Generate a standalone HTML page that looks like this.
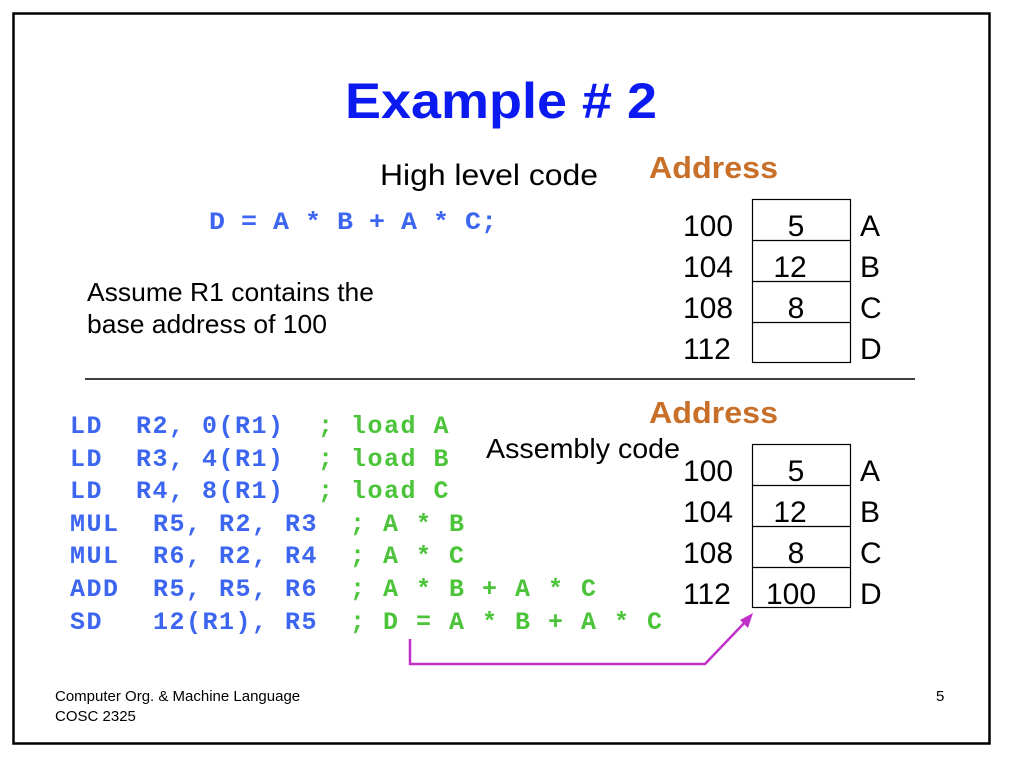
<!DOCTYPE html>
<html><head><meta charset="utf-8"><style>
html,body{margin:0;padding:0;background:#fff;}
svg{display:block;}
.s{font-family:"Liberation Sans",sans-serif;}
.m{font-family:"Liberation Mono",monospace;font-weight:bold;font-size:25px;letter-spacing:1.5px;}
.b{fill:#3d66f0;}
.g{fill:#4cc43a;}
</style></head><body>
<svg width="1024" height="761" viewBox="0 0 1024 761" xmlns="http://www.w3.org/2000/svg">
<rect x="0" y="0" width="1024" height="761" fill="#fff"/>
<rect x="13.5" y="13.5" width="976" height="730" fill="none" stroke="#000" stroke-width="2.5"/>
<text class="s" x="345" y="118" font-size="50" font-weight="bold" fill="#0a1af0" textLength="312" lengthAdjust="spacingAndGlyphs">Example # 2</text>
<text class="s" x="380" y="185" font-size="30" fill="#000" textLength="218" lengthAdjust="spacingAndGlyphs">High level code</text>
<text class="s" x="649" y="178" font-size="31" font-weight="bold" fill="#c8702a" textLength="129" lengthAdjust="spacingAndGlyphs">Address</text>
<text class="m b" x="209" y="229" style="letter-spacing:0" textLength="288" lengthAdjust="spacingAndGlyphs">D = A * B + A * C;</text>
<text class="s" x="87" y="301" font-size="26" fill="#000" textLength="287" lengthAdjust="spacingAndGlyphs">Assume R1 contains the</text>
<text class="s" x="87" y="333" font-size="26" fill="#000" textLength="240" lengthAdjust="spacingAndGlyphs">base address of 100</text>
<g class="s" font-size="30" fill="#000">
<rect x="752.5" y="199.5" width="98" height="163" fill="none" stroke="#000" stroke-width="1.2"/>
<line x1="752" y1="240.5" x2="851" y2="240.5" stroke="#000" stroke-width="1.2"/>
<line x1="752" y1="281.5" x2="851" y2="281.5" stroke="#000" stroke-width="1.2"/>
<line x1="752" y1="322.5" x2="851" y2="322.5" stroke="#000" stroke-width="1.2"/>
<text x="683" y="236">100</text><text x="683" y="277">104</text><text x="683" y="318">108</text><text x="683" y="359">112</text>
<text x="796" y="236" text-anchor="middle">5</text><text x="790" y="277" text-anchor="middle">12</text><text x="796" y="318" text-anchor="middle">8</text>
<text x="860" y="236">A</text><text x="860" y="277">B</text><text x="860" y="318">C</text><text x="860" y="359">D</text>
</g>
<line x1="85" y1="379" x2="915" y2="379" stroke="#000" stroke-width="1.5"/>
<text class="s" x="649" y="423" font-size="31" font-weight="bold" fill="#c8702a" textLength="129" lengthAdjust="spacingAndGlyphs">Address</text>
<text class="s" x="486" y="458" font-size="28" fill="#000" textLength="194" lengthAdjust="spacingAndGlyphs">Assembly code</text>
<g class="s" font-size="30" fill="#000">
<rect x="752.5" y="444.5" width="98" height="163" fill="none" stroke="#000" stroke-width="1.2"/>
<line x1="752" y1="485.5" x2="851" y2="485.5" stroke="#000" stroke-width="1.2"/>
<line x1="752" y1="526.5" x2="851" y2="526.5" stroke="#000" stroke-width="1.2"/>
<line x1="752" y1="567.5" x2="851" y2="567.5" stroke="#000" stroke-width="1.2"/>
<text x="683" y="481">100</text><text x="683" y="522">104</text><text x="683" y="563">108</text><text x="683" y="604">112</text>
<text x="796" y="481" text-anchor="middle">5</text><text x="790" y="522" text-anchor="middle">12</text><text x="796" y="563" text-anchor="middle">8</text><text x="791" y="604" text-anchor="middle">100</text>
<text x="860" y="481">A</text><text x="860" y="522">B</text><text x="860" y="563">C</text><text x="860" y="604">D</text>
</g>
<g class="m">
<text y="433"><tspan class="b" x="70">LD</tspan><tspan class="b" x="136">R2, 0(R1)</tspan><tspan class="g" x="318">; load A</tspan></text>
<text y="466"><tspan class="b" x="70">LD</tspan><tspan class="b" x="136">R3, 4(R1)</tspan><tspan class="g" x="318">; load B</tspan></text>
<text y="498"><tspan class="b" x="70">LD</tspan><tspan class="b" x="136">R4, 8(R1)</tspan><tspan class="g" x="318">; load C</tspan></text>
<text y="531"><tspan class="b" x="70">MUL</tspan><tspan class="b" x="153">R5, R2, R3</tspan><tspan class="g" x="350">; A * B</tspan></text>
<text y="563"><tspan class="b" x="70">MUL</tspan><tspan class="b" x="153">R6, R2, R4</tspan><tspan class="g" x="350">; A * C</tspan></text>
<text y="596"><tspan class="b" x="70">ADD</tspan><tspan class="b" x="153">R5, R5, R6</tspan><tspan class="g" x="350">; A * B + A * C</tspan></text>
<text y="629"><tspan class="b" x="70">SD</tspan><tspan class="b" x="153">12(R1), R5</tspan><tspan class="g" x="350">; D = A * B + A * C</tspan></text>
</g>
<polyline points="410,639 410,664 705,664 748,619" fill="none" stroke="#c030c8" stroke-width="2.5"/>
<polygon points="753,613 740,620 748,628" fill="#c030c8"/>
<text class="s" x="55" y="701" font-size="15" fill="#000">Computer Org. &amp; Machine Language</text>
<text class="s" x="55" y="721" font-size="15" fill="#000">COSC 2325</text>
<text class="s" x="936" y="701" font-size="15" fill="#000">5</text>
</svg>
</body></html>
